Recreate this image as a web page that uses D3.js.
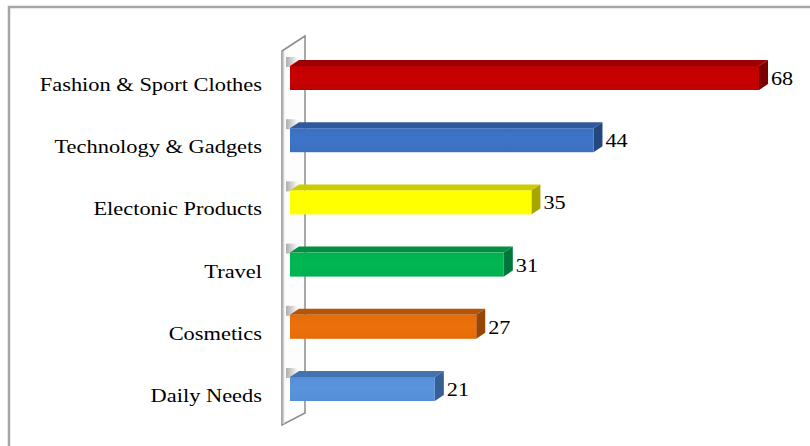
<!DOCTYPE html>
<html>
<head>
<meta charset="utf-8">
<script src="https://cdn.jsdelivr.net/npm/d3@7"></script>
<style>
  body { margin: 0; background: #fff; }
  svg { display: block; }
</style>
</head>
<body>
<div class="chart"></div>
<script>
// data
const categories = ["Fashion & Sport Clothes", "Technology & Gadgets", "Electonic Products", "Travel", "Cosmetics", "Daily Needs"];
const values = [68, 44, 35, 31, 27, 21];
const frontColors = ["#c00000", "#3b6fc0", "#ffff00", "#00b050", "#e46c0a", "#558ed5"];
const topColors = ["#9c0000", "#2e5a9c", "#cccc00", "#00903f", "#b45508", "#4273b3"];
const sideColors = ["#7a0000", "#24487e", "#a6a600", "#00763a", "#984606", "#365f96"];

function main(){
    const width = 810;
    const height = 446;
    const svg = d3.select('.chart')
        .append('svg')
        .attr('width', width)
        .attr('height', height);

    const defs = svg.append('defs');

    // outer frame (runs off the right and bottom edges)
    svg.append('rect')
        .attr('x', 9).attr('y', 7)
        .attr('width', 820).attr('height', 460)
        .attr('fill', 'none')
        .attr('stroke', '#a6a6a6')
        .attr('stroke-width', 2.5);

    const x = d3.scaleLinear().domain([0, 68]).range([290, 759]);
    const y = d3.scalePoint().domain(categories).range([78, 389]);
    const barH = 24, dx = 9, dy = 6;

    // 3d wall behind the bars
    svg.append('polygon')
        .attr('points', [[282, 51], [305, 36], [305, 413], [282, 425]].join(' '))
        .attr('fill', '#fdfdfd')
        .attr('stroke', '#8c8c8c')
        .attr('stroke-width', 1.5);
    svg.append('line')
        .attr('x1', 283.5).attr('x2', 283.5).attr('y1', 51).attr('y2', 424)
        .attr('stroke', '#d0d0d0').attr('stroke-width', 1.5);

    // shadow blobs where bars meet the wall
    const sh = defs.append('linearGradient').attr('id', 'shadow')
        .attr('x1', 0).attr('x2', 1).attr('y1', 0).attr('y2', 0);
    sh.append('stop').attr('offset', '0%').attr('stop-color', '#999').attr('stop-opacity', 0.8);
    sh.append('stop').attr('offset', '100%').attr('stop-color', '#999').attr('stop-opacity', 0);
    svg.selectAll('.shadow')
        .data(categories)
        .enter()
        .append('rect')
        .attr('class', 'shadow')
        .attr('x', 286)
        .attr('y', d => y(d) - barH / 2 - dy - 3)
        .attr('width', 12)
        .attr('height', 10)
        .attr('fill', 'url(#shadow)');

    // front face gradients
    frontColors.forEach(function(c, i){
        const g = defs.append('linearGradient').attr('id', 'front' + i)
            .attr('x1', 0).attr('x2', 0).attr('y1', 0).attr('y2', 1);
        const light = d3.color(c).brighter(0.12);
        g.append('stop').attr('offset', '0%').attr('stop-color', c);
        g.append('stop').attr('offset', '45%').attr('stop-color', light);
        g.append('stop').attr('offset', '100%').attr('stop-color', c);
    });

    const bars = svg.selectAll('.bar')
        .data(categories)
        .enter()
        .append('g')
        .attr('class', 'bar');

    // top face
    bars.append('polygon')
        .attr('points', function(d, i){
            const x0 = x(0), x1 = x(values[i]), yt = y(d) - barH / 2;
            return [[x0, yt], [x1, yt], [x1 + dx, yt - dy], [x0 + dx, yt - dy]].join(' ');
        })
        .attr('fill', (d, i) => topColors[i]);

    // side face
    bars.append('polygon')
        .attr('points', function(d, i){
            const x1 = x(values[i]), yt = y(d) - barH / 2, yb = y(d) + barH / 2;
            return [[x1, yt], [x1 + dx, yt - dy], [x1 + dx, yb - dy], [x1, yb]].join(' ');
        })
        .attr('fill', (d, i) => sideColors[i]);

    // front face
    bars.append('rect')
        .attr('x', x(0))
        .attr('y', d => y(d) - barH / 2)
        .attr('width', (d, i) => x(values[i]) - x(0))
        .attr('height', barH)
        .attr('fill', (d, i) => 'url(#front' + i + ')');

    // category labels
    svg.selectAll('.cat')
        .data(categories)
        .enter()
        .append('text')
        .attr('class', 'cat')
        .attr('transform', d => 'translate(262,' + (y(d) + 13) + ') scale(1.18,1)')
        .attr('text-anchor', 'end')
        .attr('font-family', '"Liberation Serif", "Times New Roman", serif')
        .attr('font-size', '19px')
        .attr('fill', '#000')
        .text(d => d);

    // value labels
    svg.selectAll('.val')
        .data(values)
        .enter()
        .append('text')
        .attr('class', 'val')
        .attr('transform', (d, i) => 'translate(' + (x(d) + dx + 3) + ',' + (y(categories[i]) + 7) + ') scale(1.17,1)')
        .attr('font-family', '"Liberation Serif", "Times New Roman", serif')
        .attr('font-size', '19px')
        .attr('fill', '#000')
        .text(d => d);
}

main();
</script>
</body>
</html>
